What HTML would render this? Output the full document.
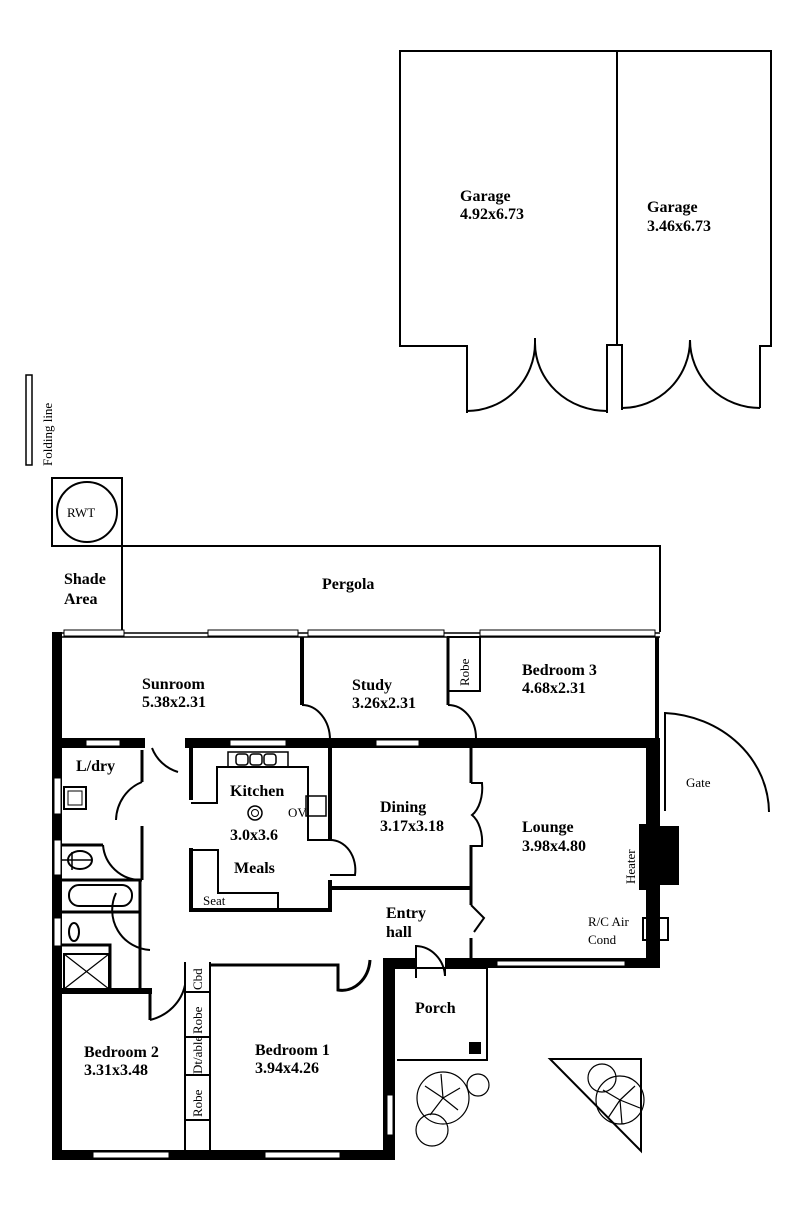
<!DOCTYPE html>
<html><head><meta charset="utf-8"><style>
html,body{margin:0;padding:0;background:#fff}
svg{display:block}
text{font-family:"Liberation Serif",serif;font-weight:bold;font-size:16px;fill:#000}
.n{font-weight:normal;font-size:13px}
</style></head><body>
<svg width="800" height="1220" viewBox="0 0 800 1220" xmlns="http://www.w3.org/2000/svg">
<g fill="none" stroke="#000" stroke-width="2">
<path d="M467,413 L467,346 L400,346 L400,51 L771,51 L771,346 L760,346 L760,408"/>
<path d="M617,51 L617,345"/>
<path d="M607,413 L607,345 L622,345 L622,410"/>
<path d="M535,343 A68,68 0 0 1 467,411"/>
<path d="M535,343 A72,68 0 0 0 607,411"/>
<path d="M535,338 L535,348"/>
<path d="M690,340 A68,68 0 0 1 622,408"/>
<path d="M690,340 A70,68 0 0 0 760,408"/>
<rect x="26" y="375" width="6" height="90" stroke-width="1.5"/>
<rect x="52" y="478" width="70" height="68"/>
<circle cx="87" cy="512" r="30"/>
<path d="M52,546 L660,546 L660,632 M122,546 L122,632"/>
<path d="M52,633 L660,633 M62,637 L660,637" stroke-width="1.5"/>
<path d="M302,637 L302,705" stroke-width="4"/>
<path d="M448,637 L448,705" stroke-width="3"/>
<rect x="448" y="637" width="32" height="54"/>
<path d="M657,637 L657,740" stroke-width="4"/>
<path d="M302,705 A28,35 0 0 1 330,740"/>
<path d="M448,705 A28,33 0 0 1 476,738"/>
<path d="M665,811 L665,713 A110,100 0 0 1 769,812"/>
<path d="M142,750 L142,782 M142,826 L142,880 M142,880 L62,880 M62,845 L103,845 M140,880 L140,990 M62,912 L140,912 M62,945 L110,945 L110,990 M62,990 L150,990 M150,990 L150,1020" stroke-width="3"/>
<path d="M142,782 A40,42 0 0 0 116,820"/>
<path d="M103,845 A38,38 0 0 0 140,880" stroke-width="2"/>
<path d="M116,893 A40,40 0 0 0 150,950" />
<path d="M150,1020 A48,45 0 0 0 185,985"/>
<path d="M152,748 A40,40 0 0 0 178,772"/>
<rect x="64" y="787" width="22" height="22"/>
<rect x="68" y="791" width="14" height="14" stroke-width="1"/>
<rect x="69" y="885" width="63" height="21" rx="10"/>
<ellipse cx="74" cy="932" rx="5" ry="9"/>
<rect x="64" y="954" width="45" height="35"/>
<path d="M64,954 L109,989 M109,954 L64,989" stroke-width="1.2"/>
<path d="M72,852 L72,870 M62,860 L92,860" stroke-width="1.5"/>
<ellipse cx="80" cy="860" rx="12" ry="9"/>
<path d="M191,748 L191,800 M191,848 L191,910 L330,910 L330,880 M330,840 L330,748" stroke-width="4"/>
<path d="M191,803 L217,803 L217,767 L308,767 L308,840 L330,840" stroke-width="2"/>
<rect x="228" y="752" width="60" height="15" stroke-width="1.5"/>
<rect x="236" y="754" width="12" height="11" rx="3" stroke-width="1.5"/>
<rect x="250" y="754" width="12" height="11" rx="3" stroke-width="1.5"/>
<rect x="264" y="754" width="12" height="11" rx="3" stroke-width="1.5"/>
<rect x="306" y="796" width="20" height="20" stroke-width="1.5"/>
<circle cx="255" cy="813" r="7" stroke-width="1.5"/>
<circle cx="255" cy="813" r="3.5" stroke-width="1"/>
<path d="M193,850 L218,850 L218,893 L278,893 L278,910" stroke-width="2"/>
<path d="M330,840 A25,30 0 0 1 355,875 L330,875" stroke-width="2"/>
<path d="M330,888 L470,888" stroke-width="4"/>
<path d="M471,748 L471,783 M471,845 L471,905 M471,938 L471,960" stroke-width="3"/>
<path d="M471,783 L482,783 A18,30 0 0 1 472,815 A18,30 0 0 1 482,846 L471,846" stroke-width="2"/>
<path d="M471,905 L484,918 L474,932" stroke-width="2"/>
<rect x="640" y="825" width="12" height="64" fill="#000"/>
<rect x="652" y="827" width="26" height="57" fill="#000"/>
<rect x="647" y="842" width="8" height="28" fill="#fff" stroke-width="1.5"/>
<rect x="643" y="918" width="25" height="22" fill="#fff"/>
<path d="M185,962 L185,1150 M210,962 L210,1150 M185,992 L210,992 M185,1037 L210,1037 M185,1075 L210,1075 M185,1120 L210,1120" stroke-width="2"/>
<path d="M210,965 L338,965 L338,990 A28,33 0 0 0 370,960" stroke-width="3"/>
<path d="M416,978 L416,946 A30,32 0 0 1 445,976 L445,967" stroke-width="2"/>
<path d="M395,968 L487,968 L487,1060 L397,1060" stroke-width="2"/>
<rect x="470" y="1043" width="10" height="10" fill="#000"/>
<path d="M550,1059 L641,1059 L641,1151 Z" stroke-width="2"/>
</g>
<g fill="none" stroke="#000" stroke-width="1.2">
<circle cx="443" cy="1098" r="26"/>
<circle cx="432" cy="1130" r="16"/>
<circle cx="478" cy="1085" r="11"/>
<path d="M443,1098 L425,1086 M443,1098 L460,1088 M443,1098 L458,1110 M443,1098 L430,1115 M443,1098 L441,1074"/>
<circle cx="602" cy="1078" r="14"/>
<circle cx="620" cy="1100" r="24"/>
<path d="M620,1100 L603,1090 M620,1100 L635,1086 M620,1100 L640,1108 M620,1100 L608,1118 M620,1100 L622,1124"/>
</g>
<g fill="#000">
<rect x="52" y="632" width="10" height="528"/>
<rect x="52" y="1150" width="343" height="10"/>
<rect x="383" y="965" width="12" height="195"/>
<rect x="52" y="738" width="93" height="10"/>
<rect x="185" y="738" width="475" height="10"/>
<rect x="646" y="738" width="14" height="230"/>
<rect x="383" y="958" width="33" height="10"/>
<rect x="445" y="958" width="215" height="10"/>
<rect x="52" y="988" width="100" height="6"/>
</g>
<g fill="#fff" stroke="#000" stroke-width="1">
<rect x="64" y="630" width="60" height="6"/>
<rect x="208" y="630" width="90" height="6"/>
<rect x="308" y="630" width="136" height="6"/>
<rect x="480" y="630" width="175" height="6"/>
<rect x="86" y="740" width="34" height="6"/>
<rect x="230" y="740" width="56" height="6"/>
<rect x="376" y="740" width="43" height="6"/>
<rect x="497" y="961" width="128" height="5"/>
<rect x="93" y="1152" width="76" height="6"/>
<rect x="265" y="1152" width="75" height="6"/>
<rect x="54" y="778" width="7" height="36"/>
<rect x="54" y="840" width="7" height="35"/>
<rect x="54" y="918" width="7" height="28"/>
<rect x="387" y="1095" width="6" height="40"/>
</g>
<text x="460" y="201">Garage</text><text x="460" y="219">4.92x6.73</text>
<text x="647" y="212">Garage</text><text x="647" y="231">3.46x6.73</text>
<text class="n" x="67" y="517" font-size="12">RWT</text>
<text class="n" transform="translate(52,466) rotate(-90)" font-size="12">Folding line</text>
<text x="64" y="584">Shade</text><text x="64" y="604">Area</text>
<text x="322" y="589">Pergola</text>
<text x="142" y="689">Sunroom</text><text x="142" y="707">5.38x2.31</text>
<text x="352" y="690">Study</text><text x="352" y="708">3.26x2.31</text>
<text class="n" transform="translate(469,686) rotate(-90)" font-size="12">Robe</text>
<text x="522" y="675">Bedroom 3</text><text x="522" y="693">4.68x2.31</text>
<text x="76" y="771">L/dry</text>
<text x="230" y="796">Kitchen</text>
<text class="n" x="288" y="817" font-size="9">OV</text>
<text x="230" y="840">3.0x3.6</text>
<text x="234" y="873">Meals</text>
<text class="n" x="203" y="905" font-size="12">Seat</text>
<text x="380" y="812">Dining</text><text x="380" y="831">3.17x3.18</text>
<text x="522" y="832">Lounge</text><text x="522" y="851">3.98x4.80</text>
<text class="n" transform="translate(635,884) rotate(-90)">Heater</text>
<text class="n" x="588" y="926">R/C Air</text><text class="n" x="588" y="944">Cond</text>
<text class="n" x="686" y="787">Gate</text>
<text x="386" y="918">Entry</text><text x="386" y="937">hall</text>
<text x="415" y="1013">Porch</text>
<text x="84" y="1057">Bedroom 2</text><text x="84" y="1075">3.31x3.48</text>
<text x="255" y="1055">Bedroom 1</text><text x="255" y="1073">3.94x4.26</text>
<text class="n" transform="translate(202,990) rotate(-90)" font-size="11">Cbd</text>
<text class="n" transform="translate(202,1034) rotate(-90)" font-size="11">Robe</text>
<text class="n" transform="translate(202,1074) rotate(-90)" font-size="11">Dt/able</text>
<text class="n" transform="translate(202,1117) rotate(-90)" font-size="11">Robe</text>
</svg>
</body></html>
